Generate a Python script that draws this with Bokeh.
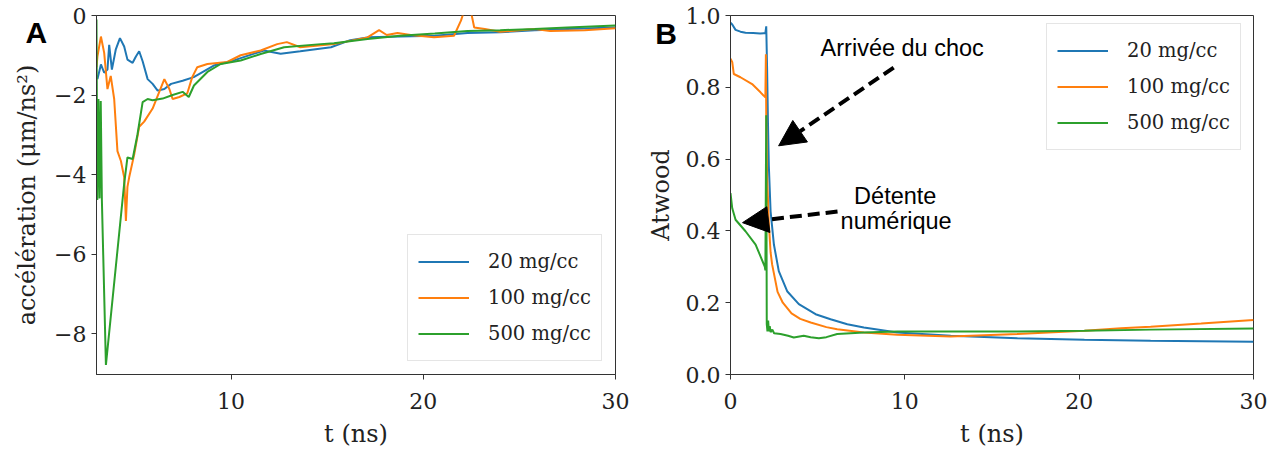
from bokeh.plotting import figure
from bokeh.layouts import row
from bokeh.models import (Range1d, FixedTicker, Legend, LegendItem, Label, Arrow,
                          NormalHead, NumeralTickFormatter)
from bokeh.embed import file_html
from bokeh.resources import INLINE

# ---------------- data ----------------
series_labels = ["20 mg/cc", "100 mg/cc", "500 mg/cc"]
colors = ["#1f77b4", "#ff7f0e", "#2ca02c"]

# Panel A : acceleration (um/ns^2) vs t (ns)
t_a20 = [3.0, 3.05, 3.23, 3.4, 3.57, 3.66, 3.8, 4.0, 4.22, 4.44, 4.61, 4.88, 5.05, 5.22, 5.4,
         5.66, 5.92, 6.18, 6.53, 6.88, 7.48, 8.06, 9.1, 10.15, 11.7, 12.58, 13.6, 14.5, 15.2,
         16.2, 17.1, 18.8, 20.6, 22.3, 24.0, 25.8, 27.5, 30.0]
acc_20 = [-1.5, -1.6, -1.23, -1.44, -1.36, -0.74, -1.36, -0.86, -0.57, -0.78, -1.11, -1.19,
          -1.03, -0.9, -1.15, -1.6, -1.72, -1.89, -1.85, -1.72, -1.64, -1.55, -1.26, -1.13,
          -0.88, -0.96, -0.9, -0.84, -0.8, -0.62, -0.55, -0.53, -0.51, -0.44, -0.42, -0.37,
          -0.34, -0.3]

t_a100 = [3.0, 3.05, 3.23, 3.4, 3.57, 3.74, 3.92, 4.09, 4.27, 4.44, 4.53, 4.61, 4.7, 4.96,
          5.22, 5.48, 5.92, 6.26, 6.53, 6.79, 6.96, 7.31, 7.72, 7.98, 8.24, 8.77, 9.8, 10.5,
          11.54, 12.4, 12.9, 13.6, 15.35, 17.1, 17.7, 18.1, 18.66, 19.35, 20.56, 21.6, 21.96,
          22.25, 22.5, 22.65, 23.2, 24.0, 25.8, 26.6, 28.4, 30.0]
acc_100 = [-1.3, -1.03, -0.53, -0.94, -1.85, -1.52, -2.1, -3.41, -3.66, -4.07, -5.17, -4.31,
           -4.07, -3.5, -2.8, -2.67, -2.34, -1.93, -1.6, -1.85, -2.1, -2.05, -1.96, -1.55,
           -1.3, -1.22, -1.17, -1.0, -0.88, -0.72, -0.67, -0.8, -0.72, -0.55, -0.37, -0.49,
           -0.44, -0.49, -0.55, -0.51, -0.13, 0.3, 0.05, -0.3, -0.34, -0.41, -0.34, -0.39,
           -0.37, -0.32]

t_a500 = [3.0, 3.04, 3.1, 3.16, 3.22, 3.28, 3.49, 4.44, 4.61, 4.88, 5.13, 5.4, 5.66, 5.92,
          6.44, 6.96, 7.48, 7.8, 8.07, 8.77, 9.46, 10.5, 11.54, 12.76, 14.67, 15.35, 17.1,
          18.8, 20.6, 22.3, 24.0, 25.8, 27.5, 30.0]
acc_500 = [-0.1, -4.64, -2.1, -4.6, -2.15, -4.64, -8.79, -4.23, -3.57, -3.61, -3.0, -2.18,
           -2.1, -2.13, -2.09, -2.0, -1.92, -2.05, -1.76, -1.42, -1.22, -1.13, -0.97, -0.8,
           -0.72, -0.7, -0.59, -0.51, -0.45, -0.39, -0.37, -0.34, -0.3, -0.25]

# Panel B : Atwood number vs t (ns)
t_b20 = [0.0, 0.1, 0.29, 0.57, 0.86, 1.3, 1.7, 2.0, 2.05, 2.1, 2.15, 2.2, 2.3, 2.49, 2.77,
         3.25, 3.92, 4.88, 5.74, 6.7, 7.65, 9.57, 12.63, 16.46, 20.3, 24.1, 30.0]
atw_20 = [0.98, 0.975, 0.96, 0.955, 0.952, 0.951, 0.95, 0.951, 0.97, 0.85, 0.7, 0.58, 0.454,
          0.362, 0.288, 0.232, 0.196, 0.168, 0.154, 0.14, 0.131, 0.117, 0.108, 0.101, 0.097,
          0.094, 0.091]

t_b100 = [0.0, 0.1, 0.19, 0.57, 1.24, 1.72, 2.0, 2.03, 2.05, 2.1, 2.2, 2.3, 2.39, 2.7, 3.0,
          3.5, 4.0, 4.6, 5.5, 6.12, 7.65, 9.57, 12.63, 16.46, 20.3, 22.4, 24.1, 27.0, 30.0]
atw_100 = [0.88, 0.87, 0.837, 0.828, 0.809, 0.786, 0.772, 0.892, 0.72, 0.55, 0.42, 0.34,
           0.306, 0.23, 0.2, 0.17, 0.155, 0.145, 0.132, 0.126, 0.117, 0.111, 0.106, 0.113,
           0.122, 0.129, 0.133, 0.142, 0.152]

t_b500 = [0.0, 0.1, 0.29, 0.86, 1.44, 1.97, 2.0, 2.05, 2.08, 2.12, 2.16, 2.2, 2.25, 2.3, 2.4,
          2.5, 2.87, 3.3, 3.63, 4.2, 4.6, 5.07, 5.5, 6.12, 7.65, 9.57, 12.63, 16.46, 20.3,
          24.1, 30.0]
atw_500 = [0.505, 0.463, 0.431, 0.399, 0.362, 0.3, 0.29, 0.722, 0.14, 0.12, 0.15, 0.12,
           0.135, 0.118, 0.125, 0.115, 0.113, 0.108, 0.103, 0.108, 0.104, 0.101, 0.104, 0.113,
           0.117, 0.12, 0.12, 0.12, 0.122, 0.125, 0.128]

x_ticks_a = [10, 20, 30]
y_ticks_a = [-8, -6, -4, -2, 0]
x_ticks_b = [0, 10, 20, 30]
y_ticks_b = [0.0, 0.2, 0.4, 0.6, 0.8, 1.0]

SERIF = "DejaVu Serif"
SANS = "Liberation Sans"
AX = "#333333"


def style(p):
    p.outline_line_color = AX
    p.outline_line_width = 1
    p.outline_line_alpha = 1
    p.xgrid.grid_line_color = None
    p.ygrid.grid_line_color = None
    for ax in list(p.xaxis) + list(p.yaxis):
        ax.axis_line_color = AX
        ax.major_tick_line_color = AX
        ax.major_tick_out = 5
        ax.major_tick_in = 0
        ax.minor_tick_line_color = None
        ax.major_label_text_font = SERIF
        ax.major_label_text_font_size = "22px"
        ax.major_label_text_color = "#222222"
        ax.axis_label_text_font = SERIF
        ax.axis_label_text_font_style = "normal"
        ax.axis_label_text_font_size = "24px"
        ax.axis_label_text_color = "#222222"
    p.xaxis.major_label_standoff = 13
    p.yaxis.major_label_standoff = 5
    p.xaxis.axis_label_standoff = 8


def make_legend(renderers, loc):
    items = [LegendItem(label=l, renderers=[r]) for l, r in zip(series_labels, renderers)]
    return Legend(items=items, location=loc, glyph_width=51, glyph_height=33,
                  label_height=33, label_standoff=19, padding=10, spacing=3, margin=0,
                  border_line_color="#cccccc", border_line_width=1,
                  background_fill_alpha=0.8,
                  label_text_font=SERIF, label_text_font_size="19.5px",
                  label_text_color="#222222")


# ---------------- panel A ----------------
pA = figure(width=640, height=454, output_backend="svg", toolbar_location=None,
            x_range=Range1d(3.0, 30.0), y_range=Range1d(-9.03, 0.0))
pA.min_border_left = 96
pA.min_border_right = 25
pA.min_border_top = 15
pA.min_border_bottom = 78
rA = []
for t, v, c in zip([t_a20, t_a100, t_a500], [acc_20, acc_100, acc_500], colors):
    rA.append(pA.line(t, v, line_color=c, line_width=2))
style(pA)
pA.xaxis.ticker = FixedTicker(ticks=x_ticks_a)
pA.yaxis.ticker = FixedTicker(ticks=y_ticks_a)
pA.yaxis.major_label_overrides = {v: ("\u2212" + str(-v)) if v < 0 else str(v) for v in y_ticks_a}
pA.xaxis.axis_label = "t (ns)"
pA.yaxis.axis_label = "accélération (μm/ns²)"
pA.yaxis.axis_label_standoff = 10
pA.add_layout(make_legend(rA, (311, 13)))
# panel letter held by a side panel (so it is not clipped to the frame)
pA.add_layout(Label(x=-0.70, y=-0.84, text="A", text_font=SANS, text_font_style="bold",
                    text_font_size="30px", text_color="black"), "right")

# ---------------- panel B ----------------
pB = figure(width=636, height=454, output_backend="svg", toolbar_location=None,
            x_range=Range1d(0.0, 30.0), y_range=Range1d(0.0, 1.0))
pB.min_border_left = 90
pB.min_border_right = 23
pB.min_border_top = 13
pB.min_border_bottom = 80
rB = []
for t, v, c in zip([t_b20, t_b100, t_b500], [atw_20, atw_100, atw_500], colors):
    rB.append(pB.line(t, v, line_color=c, line_width=2))
style(pB)
pB.xaxis.ticker = FixedTicker(ticks=x_ticks_b)
pB.yaxis.ticker = FixedTicker(ticks=y_ticks_b)
pB.yaxis.formatter = NumeralTickFormatter(format="0.0")
pB.xaxis.axis_label = "t (ns)"
pB.yaxis.axis_label = "Atwood"
pB.yaxis.axis_label_standoff = 8
pB.add_layout(make_legend(rB, (316, 224)))
pB.add_layout(Label(x=-4.31, y=0.903, text="B", text_font=SANS, text_font_style="bold",
                    text_font_size="30px", text_color="black"), "right")

# annotations
pB.add_layout(Label(x=9.85, y=0.872, text="Arrivée du choc", text_font=SANS,
                    text_font_size="23.5px", text_align="center", text_color="black"))
pB.add_layout(Label(x=9.45, y=0.462, text="Détente", text_font=SANS,
                    text_font_size="23.5px", text_align="center", text_color="black"))
pB.add_layout(Label(x=9.5, y=0.39, text="numérique", text_font=SANS,
                    text_font_size="23.5px", text_align="center", text_color="black"))
pB.add_layout(Arrow(end=NormalHead(size=26, fill_color="black", line_color="black"),
                    x_start=9.36, y_start=0.855, x_end=2.76, y_end=0.637,
                    line_color="black", line_width=4, line_dash="12 6"))
pB.add_layout(Arrow(end=NormalHead(size=26, fill_color="black", line_color="black"),
                    x_start=6.14, y_start=0.454, x_end=0.69, y_end=0.423,
                    line_color="black", line_width=4, line_dash="12 6"))

layout = row(pA, pB)
open("out.html", "w").write(file_html(layout, INLINE))
